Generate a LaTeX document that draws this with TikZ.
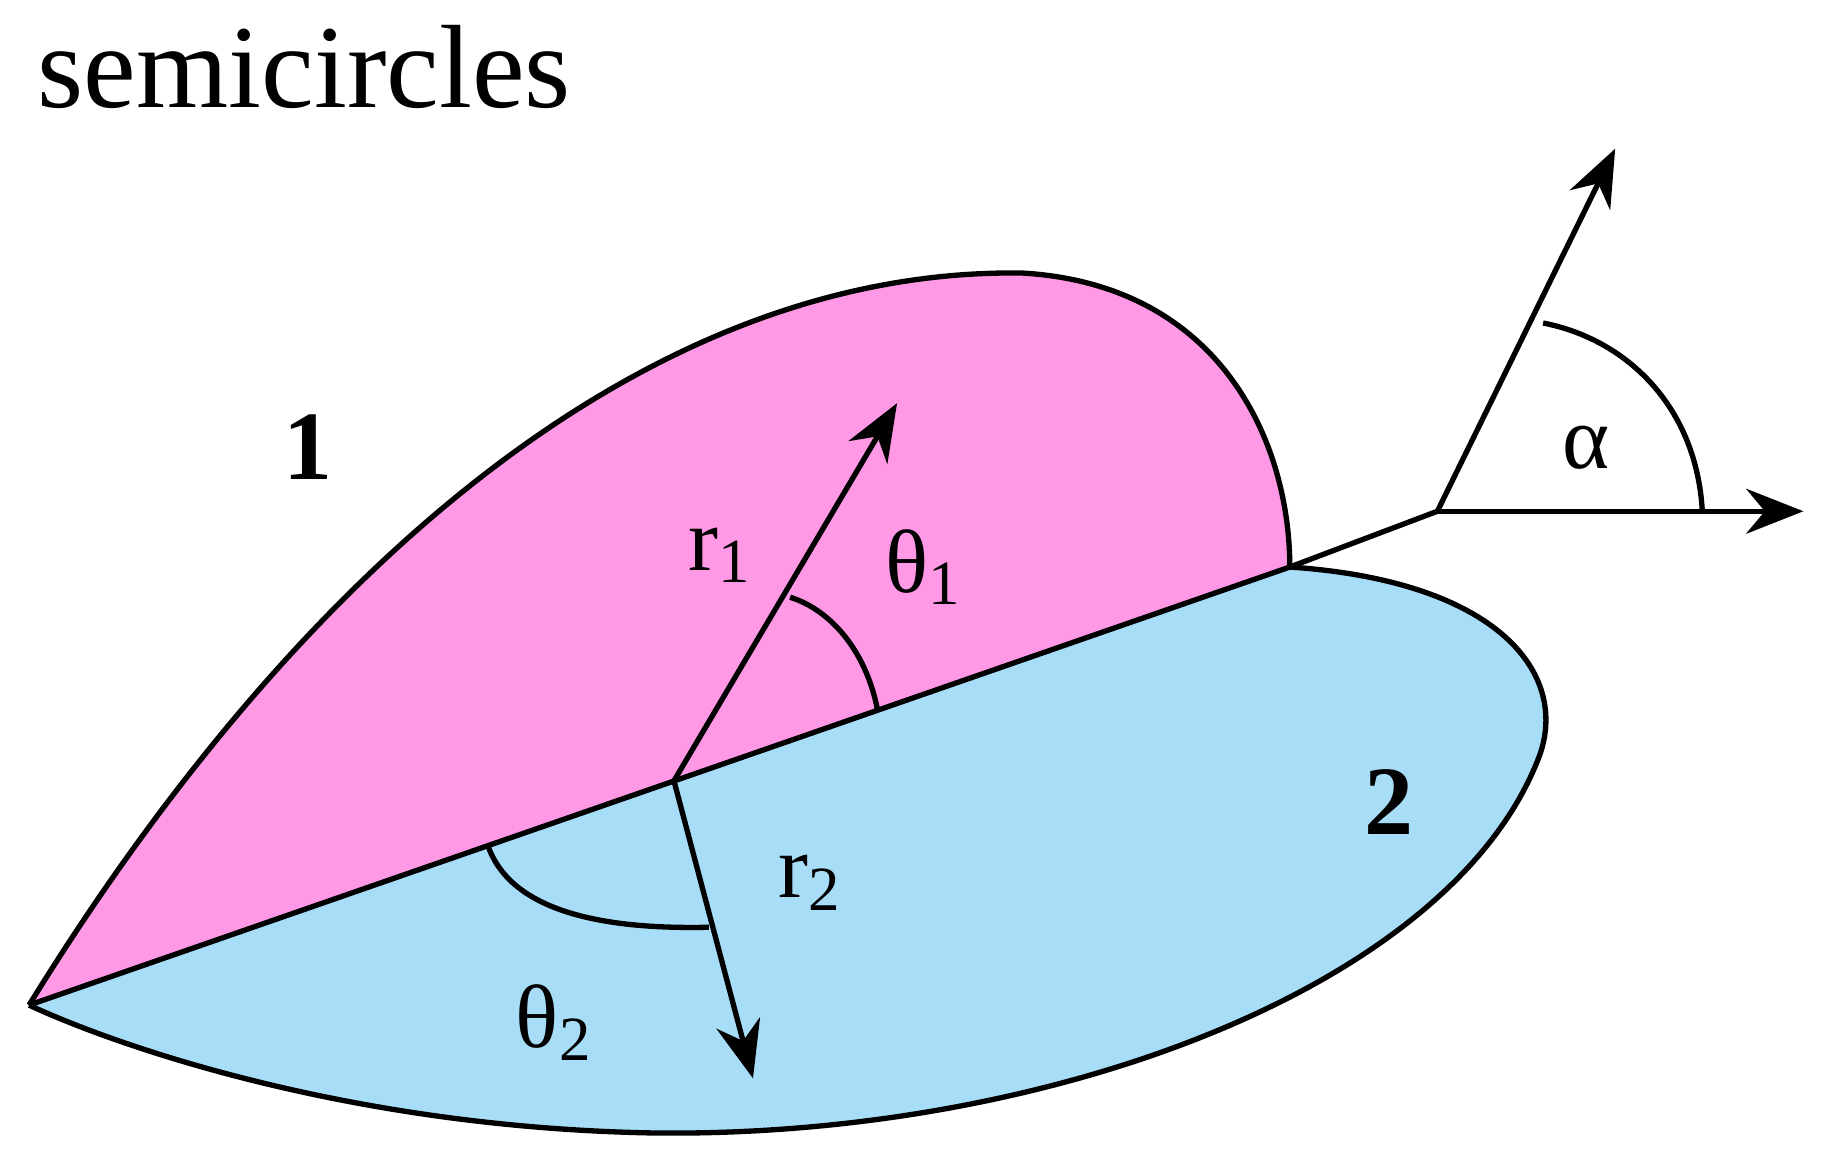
\documentclass[tikz,border=0pt]{standalone}
\usepackage{fontspec}
\setmainfont{Liberation Serif}
\usetikzlibrary{arrows.meta}
\definecolor{pinkf}{HTML}{FF99E6}
\definecolor{bluef}{HTML}{A8DDF8}
\begin{document}
\begin{tikzpicture}[x=0.01cm,y=-0.01cm,
  edge/.style={line width=1.3pt,black},
  arr/.style={edge,-{Stealth[length=14pt,width=11pt]}},
  lab/.style={font=\fontsize{22}{24}\selectfont},
  big/.style={font=\fontsize{24}{26}\selectfont\bfseries}]
\useasboundingbox (0,0) rectangle (1568,998);
\coordinate (L) at (25,865);
\coordinate (E) at (1110,488);
\coordinate (A) at (1237,440);
\coordinate (O) at (580,672);
\fill[bluef] (E) .. controls (1290,500) and (1350,580) .. (1325,650) .. controls (1250,850) and (900,980) .. (560,975) .. controls (300,970) and (100,900) .. (L) -- cycle;
\fill[pinkf] (L) .. controls (250,500) and (550,230) .. (880,235) .. controls (1050,245) and (1110,380) .. (E) -- cycle;
\draw[edge] (E) .. controls (1290,500) and (1350,580) .. (1325,650) .. controls (1250,850) and (900,980) .. (560,975) .. controls (300,970) and (100,900) .. (L);
\draw[edge] (L) .. controls (250,500) and (550,230) .. (880,235) .. controls (1050,245) and (1110,380) .. (E);
\draw[edge] (L) -- (E) -- (A);
\coordinate (T1) at (1390,128);
\coordinate (T2) at (1552,440);
\draw[arr] (A) -- (T1);
\draw[arr] (A) -- (T2);
\draw[edge] (1465,440) .. controls (1460,350) and (1400,292) .. (1328,278);
\coordinate (R1) at (772,347);
\coordinate (R2) at (648,928);
\draw[arr] (O) -- (R1);
\draw[arr] (O) -- (R2);
\draw[edge] (755,610) .. controls (745,560) and (715,525) .. (680,514);
\draw[edge] (420,728) .. controls (440,785) and (520,800) .. (610,798);
\node[lab] (n1) at (620,478) {r\textsubscript{1}};
\node[lab] (n2) at (795,488) {θ\textsubscript{1}};
\node[lab] (n3) at (697,760) {r\textsubscript{2}};
\node[lab] (n4) at (477,880) {θ\textsubscript{2}};
\node[lab] (na) at (1365,385) {α};
\node[big] (b1) at (265,385) {1};
\node[big] (b2) at (1195,690) {2};
\node[font=\fontsize{29}{31}\selectfont,anchor=west] (t) at (20,58) {semicircles};
\end{tikzpicture}
\end{document}
